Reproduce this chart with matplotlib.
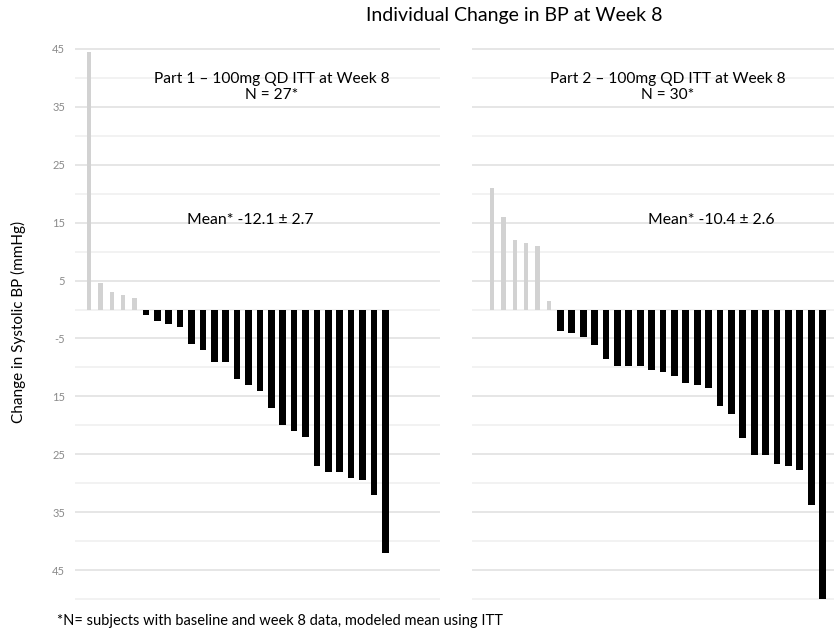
import matplotlib
matplotlib.use("Agg")
import matplotlib.pyplot as plt
import numpy as np

plt.rcParams['font.family'] = ['Lato', 'DejaVu Sans']

# Individual change in systolic BP (mmHg) at week 8, sorted high to low
part1_changes = [44.5, 4.5, 3.0, 2.5, 2.0,
                 -1.0, -2.0, -2.5, -3.0, -6.0, -7.0, -9.0, -9.0, -12.0, -13.0,
                 -14.0, -17.0, -20.0, -21.0, -22.0, -27.0, -28.0, -28.0, -29.0,
                 -29.5, -32.0, -42.0]
part2_changes = [21.0, 16.0, 12.0, 11.5, 11.0, 1.5,
                 -3.7, -4.1, -4.7, -6.1, -8.5, -9.7, -9.7, -9.8, -10.4, -10.7,
                 -11.5, -12.7, -13.1, -13.5, -16.6, -18.1, -22.1, -25.1, -25.1,
                 -26.7, -27.0, -27.7, -33.7, -50.0]

panel_titles = ["Part 1 \u2013 100mg QD ITT at Week 8\nN = 27*",
                "Part 2 \u2013 100mg QD ITT at Week 8\nN = 30*"]
mean_labels = ["Mean* -12.1 \u00b1 2.7", "Mean* -10.4 \u00b1 2.6"]

tick_values = [45, 35, 25, 15, 5, -5, -15, -25, -35, -45]
tick_labels = ["45", "35", "25", "15", "5", "-5", "15", "25", "35", "45"]

fig = plt.figure(figsize=(8.34, 6.32), dpi=100)
fig.patch.set_facecolor("white")

ax1 = fig.add_axes([0.0899, 0.0427, 0.4376, 0.8829])
ax2 = fig.add_axes([0.5660, 0.0427, 0.4340, 0.8829])

panels = [
    (ax1, part1_changes, (-1.23, 30.8), (0.54, 0.955), (0.48, 0.69)),
    (ax2, part2_changes, (-1.75, 30.0), (0.54, 0.955), (0.66, 0.69)),
]

for idx, (ax, vals, xl, title_xy, mean_xy) in enumerate(panels):
    vals = np.asarray(vals)
    x = np.arange(len(vals))
    pos = vals > 0
    # horizontal grid: darker on the labelled levels, lighter between
    for g in range(-50, 50, 5):
        col = "#e6e6e6" if g % 10 != 0 else "#f2f2f2"
        ax.axhline(g, color=col, lw=1.4, zorder=0)
    ax.bar(x[pos], vals[pos], width=0.38, color="#d2d2d2", zorder=2)
    ax.bar(x[~pos], vals[~pos], width=0.58, color="black", zorder=2)
    ax.set_xlim(*xl)
    ax.set_ylim(-51, 45.3)
    for s in ax.spines.values():
        s.set_visible(False)
    ax.set_xticks([])
    ax.text(title_xy[0], title_xy[1], panel_titles[idx], transform=ax.transAxes,
            ha="center", va="top", fontsize=11.2, linespacing=1.15)
    ax.text(mean_xy[0], mean_xy[1], mean_labels[idx], transform=ax.transAxes,
            ha="center", va="center", fontsize=11.3)

ax1.set_yticks(tick_values)
ax1.set_yticklabels(tick_labels, color="#8a8a8a", fontsize=8)
ax1.tick_params(axis="y", length=0, pad=7)
ax2.set_yticks([])

fig.text(0.617, 0.975, "Individual Change in BP at Week 8", ha="center",
         va="center", fontsize=14)
fig.text(0.022, 0.49, "Change in Systolic BP (mmHg)", rotation=90,
         ha="center", va="center", fontsize=11)
fig.text(0.068, 0.018, "*N= subjects with baseline and week 8 data, modeled mean using ITT",
         ha="left", va="center", fontsize=10.5)

fig.savefig("out.png", dpi=100, facecolor="white")
